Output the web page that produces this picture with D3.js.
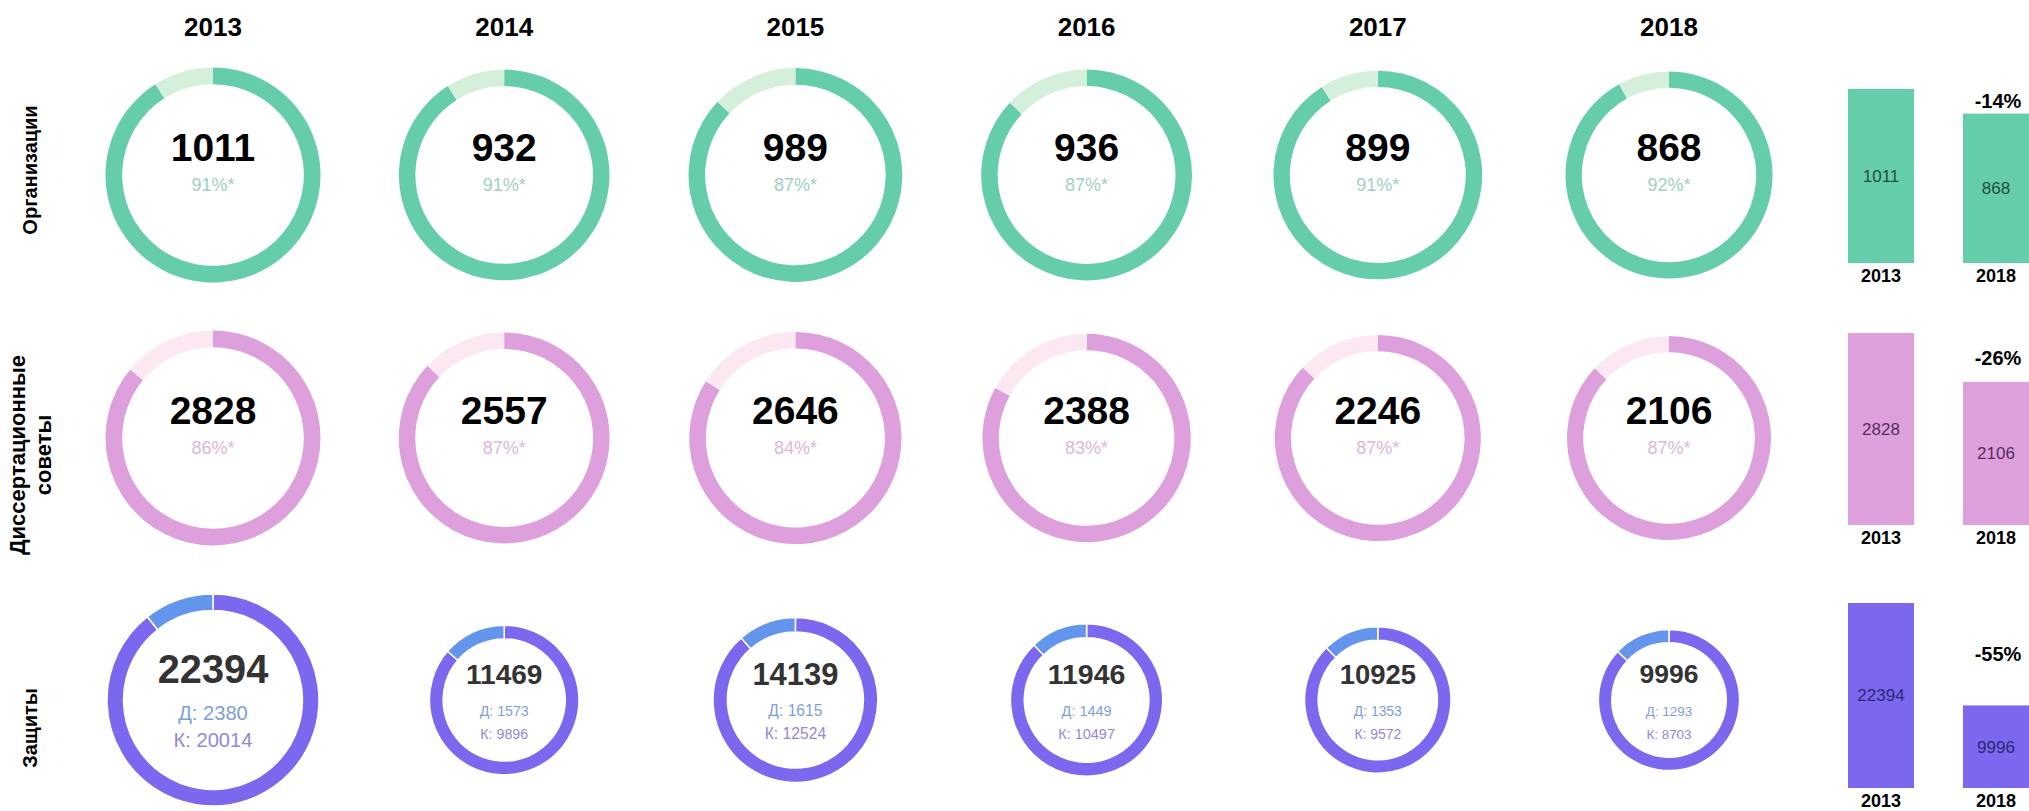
<!DOCTYPE html>
<html>
<head>
<meta charset="utf-8">
<script src="https://cdn.jsdelivr.net/npm/d3@7"></script>
<style>
  body { margin: 0; background: #fff; }
  text { font-family: "Liberation Sans", Arial, sans-serif; }
</style>
</head>
<body>
<div id="chart"></div>
<script>
// Data
const years = [2013, 2014, 2015, 2016, 2017, 2018];

const orgs = [1011, 932, 989, 936, 899, 868];
const orgsPct = [91, 91, 87, 87, 91, 92];

const councils = [2828, 2557, 2646, 2388, 2246, 2106];
const councilsPct = [86, 87, 84, 83, 87, 87];

const defTotal = [22394, 11469, 14139, 11946, 10925, 9996];
const defDoc = [2380, 1573, 1615, 1449, 1353, 1293];
const defCand = [20014, 9896, 12524, 10497, 9572, 8703];

const rowNames = [["Организации"], ["Диссертационные", "советы"], ["Защиты"]];

// Size of the picture
const width = 2029, height = 811;

const svg = d3.select("#chart")
  .append("svg")
    .attr("width", width)
    .attr("height", height);

// Row settings, built from the data arrays
const rows = [
  {name: rowNames[0], values: orgs, cy: 175, labelY: 170, labelSize: 20, rRange: [103.5, 107.5],
   main: "#66cdaa", sub: "#9fd0c4", barText: "#1f4d3f",
   barBottom: 263, barH: 174,
   parts: i => [{v: orgsPct[i], c: "#66cdaa"}, {v: 100 - orgsPct[i], c: "#d5f0da"}],
   pct: i => orgsPct[i]},
  {name: rowNames[1], values: councils, cy: 438, labelY: 455, labelSize: 22, rRange: [102, 107.5],
   main: "#dda0dd", sub: "#dcb6dc", barText: "#5a2c5a",
   barBottom: 525, barH: 192,
   parts: i => [{v: councilsPct[i], c: "#dda0dd"}, {v: 100 - councilsPct[i], c: "#fce8f3"}],
   pct: i => councilsPct[i]},
  {name: rowNames[2], values: defTotal, cy: 700, labelY: 728, labelSize: 20, rRange: [70.6, 106],
   main: "#7b68ee", sub: "#9488d8", barText: "#2a2878",
   barBottom: 788, barH: 185,
   parts: i => [{v: defCand[i], c: "#7b68ee"}, {v: defDoc[i], c: "#6495ed"}],
   pct: null}
];

// X positions of the year columns
const x = d3.scalePoint()
  .domain(years)
  .range([213, 1669]);

// Year headers
svg.selectAll(".year")
  .data(years)
  .join("text")
    .attr("x", d => x(d))
    .attr("y", 27)
    .attr("dy", "0.35em")
    .attr("text-anchor", "middle")
    .style("font-size", "26px")
    .style("font-weight", "bold")
    .text(d => d);

const pie = d3.pie().sort(null).value(d => d.v);

rows.forEach(row => {
  // Row label (rotated)
  const lab = svg.append("text")
    .attr("transform", `translate(30,${row.labelY}) rotate(-90)`)
    .attr("text-anchor", "middle")
    .style("font-size", row.labelSize + "px")
    .style("font-weight", "bold");
  row.name.forEach((line, k) => {
    lab.append("tspan")
      .attr("x", 0)
      .attr("y", (k - (row.name.length - 1) / 2) * 26)
      .attr("dy", "0.35em")
      .text(line);
  });

  // Radius scale for donuts of this row
  const r = d3.scaleLinear()
    .domain(d3.extent(row.values))
    .range(row.rRange);

  years.forEach((year, i) => {
    const radius = r(row.values[i]);
    const thick = 7 + radius * 0.09;
    const arc = d3.arc().innerRadius(radius - thick).outerRadius(radius);
    const g = svg.append("g")
      .attr("transform", `translate(${x(year)},${row.cy})`);

    g.selectAll("path")
      .data(pie(row.parts(i)))
      .join("path")
        .attr("d", arc)
        .attr("fill", d => d.data.c)
        .attr("stroke", row.pct ? "none" : "#fff")
        .attr("stroke-width", 1.5);

    if (row.pct) {
      g.append("text")
        .attr("y", -28)
        .attr("dy", "0.35em")
        .attr("text-anchor", "middle")
        .style("font-size", "39px")
        .style("font-weight", "bold")
        .style("fill", "#000")
        .text(row.values[i]);
      g.append("text")
        .attr("y", 10)
        .attr("dy", "0.35em")
        .attr("text-anchor", "middle")
        .style("font-size", "18px")
        .style("fill", row.sub)
        .text(row.pct(i) + "%*");
    } else {
      const k = Math.max(1, radius / 90);
      g.append("text")
        .attr("y", -26 * k)
        .attr("dy", "0.35em")
        .attr("text-anchor", "middle")
        .style("font-size", (radius * 0.375) + "px")
        .style("font-weight", "bold")
        .style("fill", "#333")
        .text(defTotal[i]);
      g.append("text")
        .attr("y", 11 * k)
        .attr("dy", "0.35em")
        .attr("text-anchor", "middle")
        .style("font-size", (radius * 0.19) + "px")
        .style("fill", "#7f9fd8")
        .text("Д: " + defDoc[i]);
      g.append("text")
        .attr("y", 34 * k)
        .attr("dy", "0.35em")
        .attr("text-anchor", "middle")
        .style("font-size", (radius * 0.19) + "px")
        .style("fill", row.sub)
        .text("К: " + defCand[i]);
    }
  });

  // Bars: first year vs last year
  const first = row.values[0], last = row.values[row.values.length - 1];
  const barData = [
    {year: years[0], v: first},
    {year: years[years.length - 1], v: last}
  ];
  const bx = d3.scaleBand()
    .domain(barData.map(d => d.year))
    .range([1848, 2029])
    .paddingInner(0.426);
  const by = d3.scaleLinear()
    .domain([0, d3.max(barData, d => d.v)])
    .range([row.barBottom, row.barBottom - row.barH]);

  svg.selectAll(null)
    .data(barData)
    .join("rect")
      .attr("x", d => bx(d.year))
      .attr("y", d => by(d.v))
      .attr("width", bx.bandwidth())
      .attr("height", d => row.barBottom - by(d.v))
      .attr("fill", row.main);

  svg.selectAll(null)
    .data(barData)
    .join("text")
      .attr("x", d => bx(d.year) + bx.bandwidth() / 2)
      .attr("y", d => (by(d.v) + row.barBottom) / 2)
      .attr("dy", "0.35em")
      .attr("text-anchor", "middle")
      .style("font-size", "17px")
      .style("fill", row.barText)
      .text(d => d.v);

  svg.selectAll(null)
    .data(barData)
    .join("text")
      .attr("x", d => bx(d.year) + bx.bandwidth() / 2)
      .attr("y", row.barBottom + 13)
      .attr("dy", "0.35em")
      .attr("text-anchor", "middle")
      .style("font-size", "18px")
      .style("font-weight", "bold")
      .text(d => d.year);

  // Change label, midway between the two bar tops
  const change = Math.round((last - first) / first * 100);
  svg.append("text")
    .attr("x", bx(barData[1].year) + bx.bandwidth() / 2 + 2)
    .attr("y", (by(first) + by(last)) / 2)
    .attr("dy", "0.35em")
    .attr("text-anchor", "middle")
    .style("font-size", "20px")
    .style("font-weight", "bold")
    .text(change + "%");
});
</script>
</body>
</html>
